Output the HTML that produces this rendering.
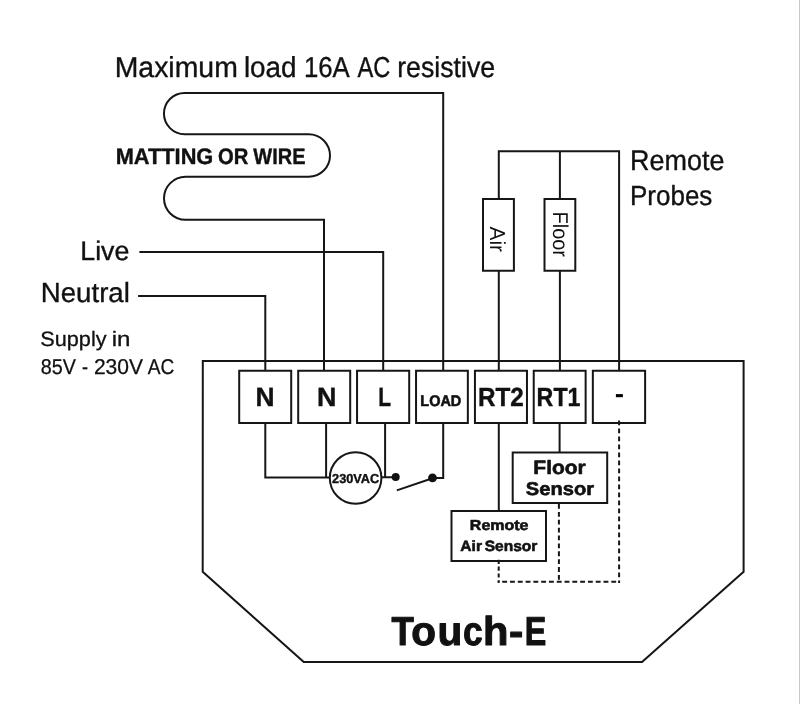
<!DOCTYPE html>
<html><head><meta charset="utf-8">
<style>
html,body{margin:0;padding:0;background:#fff;width:800px;height:704px;overflow:hidden;}
svg{display:block;will-change:transform;}
text{font-family:"Liberation Sans", sans-serif;fill:#111;text-rendering:geometricPrecision;}
.b{font-weight:bold;}
</style></head><body>
<svg width="800" height="704" viewBox="0 0 800 704">
<rect x="0" y="0" width="800" height="704" fill="#fff"/>
<rect x="799" y="0" width="1" height="704" fill="#c8c8c8"/>
<g fill="none" stroke="#161616" stroke-width="2" stroke-linejoin="miter">
  <path d="M443.2 370.8 V92.9 H184.6 A20.65 20.65 0 0 0 184.6 134.2 H308.7 A21.3 21.3 0 0 1 308.7 176.8 H185.5 A21.5 21.5 0 0 0 185.5 219.8 H324 V370.8"/>
  <path d="M139.4 252 H383.2 V370.8"/>
  <path d="M138.1 295.9 H265.3 V370.8"/>
  <path d="M202.8 360.9 H743.6 V571.75 L642 662 H303.75 L202.7 571.75 Z"/>
  <path d="M239.2 370.8 H291.2 V423.05 H239.2 Z"/>
  <path d="M298.2 370.8 H350.2 V423.05 H298.2 Z"/>
  <path d="M357.05 370.8 H409.2 V423.05 H357.05 Z"/>
  <path d="M416.05 370.8 H467.84 V423.05 H416.05 Z"/>
  <path d="M474.94 370.8 H526.97 V423.05 H474.94 Z"/>
  <path d="M533.73 370.8 H585.63 V423.05 H533.73 Z"/>
  <path d="M592.84 370.8 H645.12 V423.05 H592.84 Z"/>
  <path d="M498.8 199.1 V151.3 H619.1 V370.8"/>
  <path d="M559.9 199.1 V151.3"/>
  <path d="M498.8 270.8 V370.8"/>
  <path d="M559.9 270.8 V370.8"/>
  <path d="M483 199.1 H513.9 V270.8 H483 Z"/>
  <path d="M544.5 199.1 H575.3 V270.8 H544.5 Z"/>
  <path d="M265.3 423.05 V477.4 H330"/>
  <path d="M326.1 423.05 V477.4"/>
  <circle cx="355.6" cy="478" r="25.8"/>
  <path d="M385.1 423.05 V477.3 H396 M381.3 477.3 H385.1"/>
  <path d="M443.2 423.05 V478.1 H432.5"/>
  <path d="M432.5 478.3 L396.8 490.4"/>
  <path d="M498.8 423.05 V510.9"/>
  <path d="M559.6 423.05 V452.4"/>
  <path d="M512.7 452.4 H607.2 V502.9 H512.7 Z"/>
  <path d="M451.5 510.9 H546 V561 H451.5 Z"/>
</g>
<g fill="none" stroke="#161616" stroke-width="2">
  <path d="M619.1 420.5 V583" stroke-dasharray="4.8 3.2"/>
  <path d="M558.9 504 V581" stroke-dasharray="4.8 3.09"/>
  <path d="M497.8 581.7 H620" stroke-dasharray="4.9 2.893" stroke-dashoffset="3.4"/>
  <path d="M498.7 559.8 V582.7" stroke-dasharray="4.2 2.6"/>
</g>
<circle cx="395.7" cy="477.1" r="4" fill="#111"/>
<circle cx="432.5" cy="477.9" r="4.4" fill="#111"/>
<rect x="615.9" y="394.1" width="7" height="3.1" fill="#000"/>

<text x="114.72" y="77.0" font-size="28.85" stroke="#111" stroke-width="0.35" stroke-linejoin="round" textLength="123.07" lengthAdjust="spacingAndGlyphs">Maximum</text>
<text x="243.94" y="77.0" font-size="28.85" stroke="#111" stroke-width="0.35" stroke-linejoin="round" textLength="52.66" lengthAdjust="spacingAndGlyphs">load</text>
<text x="303.95" y="77.0" font-size="28.85" stroke="#111" stroke-width="0.35" stroke-linejoin="round" textLength="45.82" lengthAdjust="spacingAndGlyphs">16A</text>
<text x="357.59" y="77.0" font-size="28.85" stroke="#111" stroke-width="0.35" stroke-linejoin="round" textLength="32.86" lengthAdjust="spacingAndGlyphs">AC</text>
<text x="397.23" y="77.0" font-size="28.85" stroke="#111" stroke-width="0.35" stroke-linejoin="round" textLength="97.92" lengthAdjust="spacingAndGlyphs">resistive</text>
<text x="115.7" y="164.0" font-size="22.43" class="b" stroke="#111" stroke-width="0.4" stroke-linejoin="round" textLength="97.63" lengthAdjust="spacingAndGlyphs">MATTING</text>
<text x="218.05" y="164.0" font-size="22.43" class="b" stroke="#111" stroke-width="0.4" stroke-linejoin="round" textLength="30.33" lengthAdjust="spacingAndGlyphs">OR</text>
<text x="253.35" y="164.0" font-size="22.43" class="b" stroke="#111" stroke-width="0.4" stroke-linejoin="round" textLength="52.15" lengthAdjust="spacingAndGlyphs">WIRE</text>
<text x="80.29" y="260.0" font-size="26.75" stroke="#111" stroke-width="0.35" stroke-linejoin="round" textLength="49.02" lengthAdjust="spacingAndGlyphs">Live</text>
<text x="40.76" y="302.0" font-size="27.7" stroke="#111" stroke-width="0.35" stroke-linejoin="round" textLength="89.1" lengthAdjust="spacingAndGlyphs">Neutral</text>
<text x="40.29" y="346.0" font-size="20.85" stroke="#111" stroke-width="0.3" stroke-linejoin="round" textLength="66.28" lengthAdjust="spacingAndGlyphs">Supply</text>
<text x="111.68" y="346.0" font-size="20.85" stroke="#111" stroke-width="0.3" stroke-linejoin="round" textLength="18.81" lengthAdjust="spacingAndGlyphs">in</text>
<text x="40.69" y="374.0" font-size="21.4" stroke="#111" stroke-width="0.3" stroke-linejoin="round" textLength="35.11" lengthAdjust="spacingAndGlyphs">85V</text>
<text x="82.04" y="374.0" font-size="21.4" stroke="#111" stroke-width="0.3" stroke-linejoin="round" textLength="6.06" lengthAdjust="spacingAndGlyphs">-</text>
<text x="93.88" y="374.0" font-size="21.4" stroke="#111" stroke-width="0.3" stroke-linejoin="round" textLength="49.07" lengthAdjust="spacingAndGlyphs">230V</text>
<text x="147.73" y="374.0" font-size="21.4" stroke="#111" stroke-width="0.3" stroke-linejoin="round" textLength="26.52" lengthAdjust="spacingAndGlyphs">AC</text>
<text x="630.08" y="170.0" font-size="28.34" stroke="#111" stroke-width="0.35" stroke-linejoin="round" textLength="94.41" lengthAdjust="spacingAndGlyphs">Remote</text>
<text x="629.97" y="205.0" font-size="27.7" stroke="#111" stroke-width="0.35" stroke-linejoin="round" textLength="82.4" lengthAdjust="spacingAndGlyphs">Probes</text>
<text x="255.56" y="406.0" font-size="26.39" class="b" stroke="#111" stroke-width="0.4" stroke-linejoin="round" textLength="19.06" lengthAdjust="spacingAndGlyphs">N</text>
<text x="316.94" y="406.0" font-size="26.39" class="b" stroke="#111" stroke-width="0.4" stroke-linejoin="round" textLength="19.46" lengthAdjust="spacingAndGlyphs">N</text>
<text x="378.17" y="406.0" font-size="26.41" class="b" stroke="#111" stroke-width="0.4" stroke-linejoin="round" textLength="12.79" lengthAdjust="spacingAndGlyphs">L</text>
<text x="420.31" y="406.0" font-size="15.39" class="b" stroke="#111" stroke-width="0.6" stroke-linejoin="round" textLength="41.04" lengthAdjust="spacingAndGlyphs">LOAD</text>
<text x="477.92" y="406.0" font-size="26.19" class="b" stroke="#111" stroke-width="0.4" stroke-linejoin="round" textLength="45.86" lengthAdjust="spacingAndGlyphs">RT2</text>
<text x="536.58" y="406.0" font-size="26.19" class="b" stroke="#111" stroke-width="0.4" stroke-linejoin="round" textLength="43.95" lengthAdjust="spacingAndGlyphs">RT1</text>
<text x="332.09" y="483.0" font-size="12.98" class="b" stroke="#111" stroke-width="0.4" stroke-linejoin="round" textLength="47.09" lengthAdjust="spacingAndGlyphs">230VAC</text>
<text x="533.34" y="474.0" font-size="19.39" class="b" stroke="#111" stroke-width="0.6" stroke-linejoin="round" textLength="52.44" lengthAdjust="spacingAndGlyphs">Floor</text>
<text x="525.86" y="495.0" font-size="18.43" class="b" stroke="#111" stroke-width="0.6" stroke-linejoin="round" textLength="68.14" lengthAdjust="spacingAndGlyphs">Sensor</text>
<text x="469.86" y="530.0" font-size="14.53" class="b" stroke="#111" stroke-width="0.6" stroke-linejoin="round" textLength="58.58" lengthAdjust="spacingAndGlyphs">Remote</text>
<text x="460.33" y="551.0" font-size="14.89" class="b" stroke="#111" stroke-width="0.6" stroke-linejoin="round" textLength="21.63" lengthAdjust="spacingAndGlyphs">Air</text>
<text x="484.68" y="551.0" font-size="14.89" class="b" stroke="#111" stroke-width="0.6" stroke-linejoin="round" textLength="52.66" lengthAdjust="spacingAndGlyphs">Sensor</text>
<text x="391.58" y="645.0" font-size="40.49" class="b" stroke="#111" stroke-width="1.0" stroke-linejoin="round" textLength="22.35" lengthAdjust="spacingAndGlyphs">T</text>
<text x="411.3" y="645.0" font-size="40.49" class="b" stroke="#111" stroke-width="1.0" stroke-linejoin="round" textLength="24.73" lengthAdjust="spacingAndGlyphs">o</text>
<text x="437.43" y="645.0" font-size="40.49" class="b" stroke="#111" stroke-width="1.0" stroke-linejoin="round" textLength="24.77" lengthAdjust="spacingAndGlyphs">u</text>
<text x="463.0" y="645.0" font-size="40.49" class="b" stroke="#111" stroke-width="1.0" stroke-linejoin="round" textLength="19.67" lengthAdjust="spacingAndGlyphs">c</text>
<text x="483.07" y="645.0" font-size="40.49" class="b" stroke="#111" stroke-width="1.0" stroke-linejoin="round" textLength="25.45" lengthAdjust="spacingAndGlyphs">h</text>
<text x="508.93" y="645.0" font-size="40.49" class="b" stroke="#111" stroke-width="1.0" stroke-linejoin="round" textLength="14.3" lengthAdjust="spacingAndGlyphs">-</text>
<text x="524.72" y="645.0" font-size="40.49" class="b" stroke="#111" stroke-width="1.0" stroke-linejoin="round" textLength="21.56" lengthAdjust="spacingAndGlyphs">E</text>
<text transform="translate(490.2 226.5) rotate(90)" font-size="21.74" textLength="25.5" lengthAdjust="spacingAndGlyphs">Air</text>
<text transform="translate(552.9 211.5) rotate(90)" font-size="21.46" textLength="45.5" lengthAdjust="spacingAndGlyphs">Floor</text>

</svg>
</body></html>
